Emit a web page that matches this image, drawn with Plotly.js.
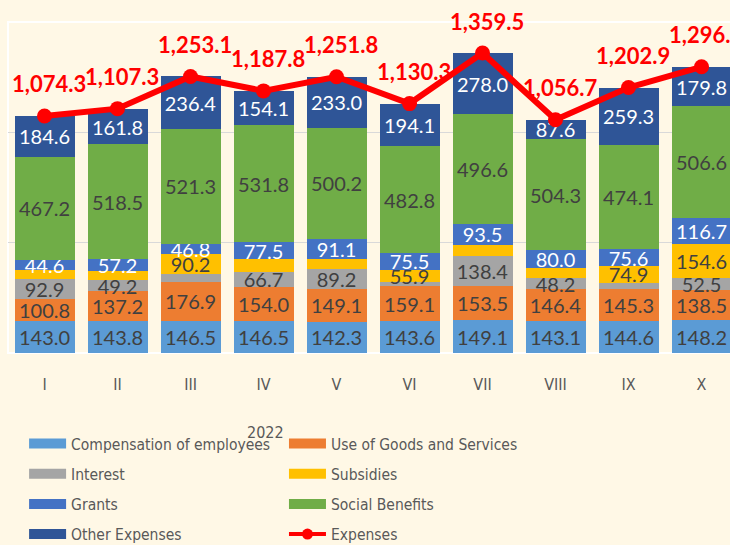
<!DOCTYPE html>
<html>
<head>
<meta charset="utf-8">
<script src="https://cdn.plot.ly/plotly-3.0.1.min.js"></script>
<style>
  body { margin: 0; background: #FFF8E6; }
  #chart { width: 730px; height: 545px; }
</style>
</head>
<body>
<div id="chart"></div>
<script>
// months of 2022
var months = ["I", "II", "III", "IV", "V", "VI", "VII", "VIII", "IX", "X"];

// expense components, bottom to top of each bar
var compensation = [143.0, 143.8, 146.5, 146.5, 142.3, 143.6, 149.1, 143.1, 144.6, 148.2];
var goodsServices = [100.8, 137.2, 176.9, 154.0, 149.1, 159.1, 153.5, 146.4, 145.3, 138.5];
var interest = [92.9, 49.2, 35.0, 66.7, 89.2, 19.3, 138.4, 48.2, 29.1, 52.5];
var subsidies = [41.2, 39.6, 90.2, 57.2, 46.9, 55.9, 50.4, 47.1, 74.9, 154.6];
var grants = [44.6, 57.2, 46.8, 77.5, 91.1, 75.5, 93.5, 80.0, 75.6, 116.7];
var socialBenefits = [467.2, 518.5, 521.3, 531.8, 500.2, 482.8, 496.6, 504.3, 474.1, 506.6];
var otherExpenses = [184.6, 161.8, 236.4, 154.1, 233.0, 194.1, 278.0, 87.6, 259.3, 179.8];

// total expenses
var expenses = [1074.3, 1107.3, 1253.1, 1187.8, 1251.8, 1130.3, 1359.5, 1056.7, 1202.9, 1296.9];

// which small segments carry a label in the original
var interestShown = [1, 1, 0, 1, 1, 0, 1, 1, 0, 1];
var subsidyShown = [0, 0, 1, 0, 0, 1, 0, 0, 1, 1];

var bg = "#FFF8E6";
var darkText = "#404040";
var gray = "#595959";
var labelFont = "Lato, 'Open Sans', sans-serif";
var narrow = { family: "'DejaVu Sans Condensed', 'DejaVu Sans', sans-serif", color: gray };

function labels(vals, shown) {
  return vals.map((v, i) => (shown && !shown[i]) ? "" : v.toFixed(1));
}

function barTrace(name, vals, color, textColor, shown) {
  return {
    x: months,
    y: vals,
    name: name,
    type: "bar",
    marker: { color: color, line: { width: 0 } },
    text: labels(vals, shown),
    textposition: "inside",
    insidetextanchor: "middle",
    constraintext: "none",
    textangle: 0,
    textfont: { family: labelFont, size: 20, color: textColor },
    cliponaxis: false,
    hoverinfo: "x+y+name",
    showlegend: false
  };
}

// name, values, colour, label colour, shown flags, legend column
var series = [
  ["Compensation of employees", compensation, "#5B9BD5", darkText, null, "legend"],
  ["Use of Goods and Services", goodsServices, "#ED7D31", darkText, null, "legend2"],
  ["Interest", interest, "#A5A5A5", darkText, interestShown, "legend"],
  ["Subsidies", subsidies, "#FFC000", darkText, subsidyShown, "legend2"],
  ["Grants", grants, "#4472C4", "#FFFFFF", null, "legend"],
  ["Social Benefits", socialBenefits, "#70AD47", darkText, null, "legend2"],
  ["Other Expenses", otherExpenses, "#2F5597", "#FFFFFF", null, "legend"]
];

var data = series.map(s => barTrace(s[0], s[1], s[2], s[3], s[4]));

// total line on top
data.push({
  x: months,
  y: expenses,
  name: "Expenses",
  type: "scatter",
  mode: "lines+markers",
  line: { color: "#FF0000", width: 6 },
  marker: { color: "#FF0000", size: 15 },
  cliponaxis: false,
  showlegend: false
});

// legend entries drawn as wide swatches
series.forEach((s, i) => {
  data.push({
    x: [null], y: [null], name: s[0], type: "scatter", mode: "lines",
    line: { color: s[2], width: 10 }, hoverinfo: "skip",
    legend: s[5], legendgroup: "g" + i
  });
});
data.push({
  x: [null], y: [null], name: "Expenses", type: "scatter", mode: "lines+markers",
  line: { color: "#FF0000", width: 4 }, marker: { color: "#FF0000", size: 11 }, hoverinfo: "skip",
  legend: "legend2", legendgroup: "gx"
});

// total labels above the markers
var totalLabels = months.map((m, i) => ({
  x: m,
  y: expenses[i],
  text: expenses[i].toLocaleString("en-US", { minimumFractionDigits: 1, maximumFractionDigits: 1 }),
  xref: "x",
  yref: "y",
  showarrow: false,
  yshift: 32,
  xshift: 4,
  yanchor: "middle",
  font: { family: labelFont, size: 22, color: "#FF0000", weight: "bold" }
}));

function legendCol(x) {
  return {
    orientation: "v",
    xref: "container",
    yref: "container",
    x: x,
    y: 0.2165,
    xanchor: "left",
    yanchor: "top",
    traceorder: "grouped",
    tracegroupgap: 7,
    itemwidth: 37,
    font: Object.assign({ size: 15.5 }, narrow),
    bgcolor: "rgba(0,0,0,0)"
  };
}

var layout = {
  width: 730,
  height: 545,
  margin: { l: 8, r: 0, t: 22, b: 192, autoexpand: false },
  paper_bgcolor: bg,
  plot_bgcolor: bg,
  barmode: "stack",
  bargap: 0.178,
  showlegend: true,
  xaxis: {
    type: "category",
    range: [-0.5, 9.39],
    showgrid: false,
    zeroline: false,
    showline: false,
    ticks: "",
    ticklabelstandoff: 20,
    tickfont: Object.assign({ size: 16 }, narrow),
    fixedrange: true
  },
  yaxis: {
    range: [0, 1500],
    dtick: 500,
    showticklabels: false,
    showgrid: true,
    gridcolor: "#D9D9D9",
    gridwidth: 1,
    zeroline: false,
    fixedrange: true
  },
  legend: legendCol(0.033),
  legend2: legendCol(0.389),
  annotations: totalLabels.concat([{
    text: "2022",
    xref: "paper",
    yref: "paper",
    x: 0.357,
    y: -0.239,
    yanchor: "middle",
    showarrow: false,
    font: Object.assign({ size: 16 }, narrow)
  }]),
  shapes: [{
    type: "rect",
    xref: "paper",
    yref: "paper",
    x0: 0, x1: 1.02, y0: 0, y1: 1,
    line: { color: "#FFFFFF", width: 2 },
    layer: "below"
  }]
};

Plotly.newPlot("chart", data, layout, { displayModeBar: false, staticPlot: true });
</script>
</body>
</html>
